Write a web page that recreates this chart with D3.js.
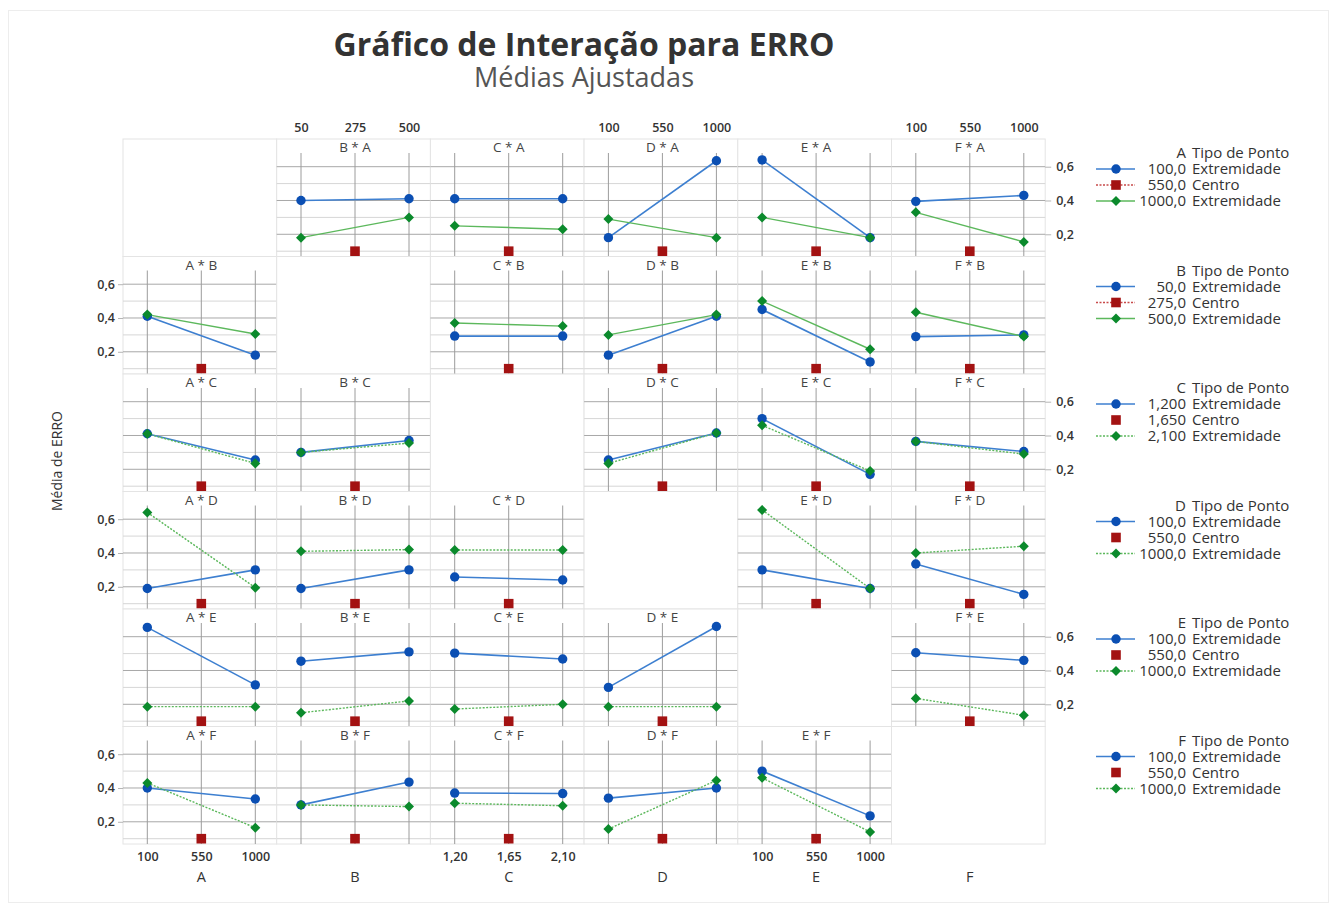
<!DOCTYPE html>
<html>
<head>
<meta charset="utf-8">
<script src="https://cdn.jsdelivr.net/npm/d3@7"></script>
<style>
  body { margin: 0; background: #fff; }
  svg { display: block; font-family: "Open Sans", "Noto Sans", sans-serif; }
</style>
</head>
<body>
<svg id="chart" width="1337" height="911"></svg>
<script>
// Factors of the design, in matrix order (columns = x factor, rows = trace factor)
const factorNames = ["A", "B", "C", "D", "E", "F"];

// Tick labels shown on the outer axes for each factor (low, centre, high)
const axisTickLabels = [
  ["100", "550", "1000"],
  ["50", "275", "500"],
  ["1,20", "1,65", "2,10"],
  ["100", "550", "1000"],
  ["100", "550", "1000"],
  ["100", "550", "1000"]
];

// Level labels shown in the legends
const legendLevels = [
  ["100,0", "550,0", "1000,0"],
  ["50,0", "275,0", "500,0"],
  ["1,200", "1,650", "2,100"],
  ["100,0", "550,0", "1000,0"],
  ["100,0", "550,0", "1000,0"],
  ["100,0", "550,0", "1000,0"]
];
const pointTypes = ["Extremidade", "Centro", "Extremidade"];

// Fitted means of ERRO with the trace factor (row) at its low level,
// given at the low and high level of the x factor (column)
const lowLevelMeans = [
  [null, [0.40, 0.41], [0.41, 0.41], [0.18, 0.635], [0.64, 0.18], [0.395, 0.43]],
  [[0.41, 0.18], null, [0.293, 0.293], [0.18, 0.41], [0.45, 0.14], [0.29, 0.30]],
  [[0.41, 0.255], [0.30, 0.37], null, [0.255, 0.415], [0.50, 0.17], [0.365, 0.305]],
  [[0.19, 0.30], [0.19, 0.30], [0.258, 0.24], null, [0.30, 0.19], [0.335, 0.155]],
  [[0.655, 0.315], [0.455, 0.51], [0.503, 0.468], [0.30, 0.66], null, [0.505, 0.46]],
  [[0.40, 0.335], [0.30, 0.435], [0.37, 0.367], [0.34, 0.40], [0.50, 0.235], null]
];

// Same, with the trace factor at its high level
const highLevelMeans = [
  [null, [0.18, 0.30], [0.25, 0.23], [0.29, 0.18], [0.30, 0.18], [0.33, 0.155]],
  [[0.42, 0.305], null, [0.37, 0.352], [0.30, 0.42], [0.50, 0.215], [0.434, 0.29]],
  [[0.41, 0.235], [0.30, 0.355], null, [0.235, 0.415], [0.46, 0.19], [0.365, 0.29]],
  [[0.64, 0.195], [0.41, 0.42], [0.418, 0.418], null, [0.655, 0.19], [0.40, 0.44]],
  [[0.186, 0.186], [0.15, 0.22], [0.172, 0.20], [0.186, 0.186], null, [0.235, 0.135]],
  [[0.43, 0.165], [0.30, 0.29], [0.31, 0.295], [0.157, 0.445], [0.46, 0.14], null]
];

// Fitted mean at the centre point
const centerMean = 0.10;

// Y grid values and labelled ticks
const gridValues = [0.1, 0.2, 0.3, 0.4, 0.5, 0.6];
const yTickValues = [0.2, 0.4, 0.6];

// ---------------------------------------------------------------------------
const blueMark = "#0b4fb3", blueLine = "#3d7fd0";
const greenMark = "#0b8a2c", greenLine = "#5cb85c";
const redMark = "#a31212";
const textColor = "#333";

const greenDotted = [false, false, true, true, true, true];
const centreLineInLegend = [true, true, false, false, false, false];

const svg = d3.select("#chart");

// figure frame
svg.append("rect")
  .attr("x", 8.5).attr("y", 10.5).attr("width", 1320).attr("height", 892)
  .attr("fill", "none").attr("stroke", "#ededed");

const gridLeft = 123, gridTop = 139, cellW = 153.7, cellH = 117.5, stripH = 14;
const n = factorNames.length;

const x = d3.scalePoint().domain([0, 1, 2]).range([24.3, 132.3]);
const y = d3.scaleLinear().domain([0.0686, 0.681]).range([cellH, stripH]);
const fmt = v => d3.format(".1f")(v).replace(".", ",");

const diamond = d3.symbol().type(d3.symbolDiamond2).size(64);

// Title
svg.append("text")
  .attr("x", 584).attr("y", 56).attr("text-anchor", "middle")
  .attr("font-size", 32).attr("font-weight", 700).attr("fill", "#333")
  .text("Gráfico de Interação para ERRO");
svg.append("text")
  .attr("x", 584).attr("y", 87).attr("text-anchor", "middle")
  .attr("font-size", 27).attr("fill", "#555")
  .text("Médias Ajustadas");

// Panels
for (let r = 0; r < n; r++) {
  for (let c = 0; c < n; c++) {
    const g = svg.append("g")
      .attr("transform", `translate(${gridLeft + c * cellW},${gridTop + r * cellH})`);
    g.append("rect")
      .attr("width", cellW).attr("height", cellH)
      .attr("fill", "#fff").attr("stroke", "#e4e4e4");
    if (r === c) continue;

    // horizontal grid
    g.selectAll("line.h").data(gridValues).join("line")
      .attr("class", "h")
      .attr("x1", 0).attr("x2", cellW)
      .attr("y1", d => y(d)).attr("y2", d => y(d))
      .attr("stroke", d => yTickValues.some(t => Math.abs(t - d) < 1e-9) ? "#a8a8a8" : "#d6d6d6")
      .attr("stroke-width", 1);

    // vertical grid at the factor levels
    g.selectAll("line.v").data([0, 1, 2]).join("line")
      .attr("class", "v")
      .attr("x1", d => x(d)).attr("x2", d => x(d))
      .attr("y1", stripH).attr("y2", cellH)
      .attr("stroke", "#9c9c9c").attr("stroke-width", 1);

    // panel title
    g.append("text")
      .attr("x", x(1)).attr("y", 8.5).attr("dy", "0.35em")
      .attr("text-anchor", "middle").attr("font-size", 13.5).attr("fill", "#444")
      .text(`${factorNames[c]} * ${factorNames[r]}`);

    const low = lowLevelMeans[r][c];
    const high = highLevelMeans[r][c];
    const line = d3.line().x((d, i) => x(i * 2)).y(d => y(d));

    g.append("path").attr("d", line(low))
      .attr("fill", "none").attr("stroke", blueLine).attr("stroke-width", 1.6);
    g.append("path").attr("d", line(high))
      .attr("fill", "none").attr("stroke", greenLine).attr("stroke-width", 1.4)
      .attr("stroke-dasharray", greenDotted[r] ? "2,1.5" : null);

    g.selectAll("circle.lo").data(low).join("circle")
      .attr("class", "lo")
      .attr("cx", (d, i) => x(i * 2)).attr("cy", d => y(d)).attr("r", 4.7)
      .attr("fill", blueMark);
    g.selectAll("path.hi").data(high).join("path")
      .attr("class", "hi")
      .attr("transform", (d, i) => `translate(${x(i * 2)},${y(d)})`)
      .attr("d", diamond).attr("fill", greenMark);

    g.append("rect")
      .attr("x", x(1) - 4.8).attr("y", y(centerMean) - 4.8)
      .attr("width", 9.6).attr("height", 9.6).attr("fill", redMark);
  }
}

// Outer axes
function styleAxis(sel, size) {
  sel.select(".domain").remove();
  sel.selectAll(".tick line").attr("stroke", "#b5b5b5");
  sel.selectAll(".tick text").attr("fill", textColor).attr("font-size", size)
    .attr("font-weight", 600)
    .attr("font-family", "'Open Sans','Noto Sans',sans-serif");
}

for (let c = 0; c < n; c++) {
  const xAxisScale = d3.scalePoint().domain(axisTickLabels[c]).range(x.range());
  if (c % 2 === 1) {
    svg.append("g")
      .attr("transform", `translate(${gridLeft + c * cellW},${gridTop})`)
      .call(d3.axisTop(xAxisScale).tickSize(0).tickPadding(7.5))
      .call(s => styleAxis(s, 12.5));
  } else {
    svg.append("g")
      .attr("transform", `translate(${gridLeft + c * cellW},${gridTop + n * cellH})`)
      .call(d3.axisBottom(xAxisScale).tickSize(0).tickPadding(8))
      .call(s => styleAxis(s, 12.5));
  }
  svg.append("text")
    .attr("x", gridLeft + c * cellW + x(1)).attr("y", 877).attr("dy", "0.35em")
    .attr("text-anchor", "middle").attr("font-size", 14.5).attr("fill", textColor)
    .text(factorNames[c]);
}

for (let r = 0; r < n; r++) {
  const yAxisScale = y.copy().range([gridTop + r * cellH + cellH, gridTop + r * cellH + stripH]);
  if (r % 2 === 1) {
    svg.append("g").attr("transform", `translate(${gridLeft},0)`)
      .call(d3.axisLeft(yAxisScale).tickValues(yTickValues).tickFormat(fmt).tickSize(5).tickPadding(3))
      .call(s => styleAxis(s, 12.5));
  } else {
    svg.append("g").attr("transform", `translate(${gridLeft + n * cellW},0)`)
      .call(d3.axisRight(yAxisScale).tickValues(yTickValues).tickFormat(fmt).tickSize(6).tickPadding(5))
      .call(s => styleAxis(s, 12.5));
  }
}

// Y axis title
svg.append("text")
  .attr("transform", "translate(57,461) rotate(-90)")
  .attr("text-anchor", "middle").attr("dy", "0.35em")
  .attr("font-size", 14).attr("fill", textColor)
  .text("Média de ERRO");

// Legends, one per trace factor, aligned with its row
const legX = { lineStart: 1096, lineEnd: 1135, mark: 1116, value: 1186, label: 1192 };
for (let r = 0; r < n; r++) {
  const base = gridTop + r * cellH + 14;
  const lg = svg.append("g").attr("font-size", 15).attr("fill", textColor);
  lg.append("text").attr("x", legX.value).attr("y", base).attr("dy", "0.35em")
    .attr("text-anchor", "end").text(factorNames[r]);
  lg.append("text").attr("x", legX.label).attr("y", base).attr("dy", "0.35em")
    .text("Tipo de Ponto");

  legendLevels[r].forEach((lvl, i) => {
    const yy = base + 16 * (i + 1);
    if (i === 0) {
      lg.append("line").attr("x1", legX.lineStart).attr("x2", legX.lineEnd)
        .attr("y1", yy).attr("y2", yy).attr("stroke", blueLine).attr("stroke-width", 1.6);
      lg.append("circle").attr("cx", legX.mark).attr("cy", yy).attr("r", 4.7).attr("fill", blueMark);
    } else if (i === 1) {
      if (centreLineInLegend[r]) {
        lg.append("line").attr("x1", legX.lineStart).attr("x2", legX.lineEnd)
          .attr("y1", yy).attr("y2", yy).attr("stroke", "#c84a4a").attr("stroke-width", 1.3)
          .attr("stroke-dasharray", "2,1.5");
      }
      lg.append("rect").attr("x", legX.mark - 4.8).attr("y", yy - 4.8)
        .attr("width", 9.6).attr("height", 9.6).attr("fill", redMark);
    } else {
      lg.append("line").attr("x1", legX.lineStart).attr("x2", legX.lineEnd)
        .attr("y1", yy).attr("y2", yy).attr("stroke", greenLine).attr("stroke-width", 1.4)
        .attr("stroke-dasharray", greenDotted[r] ? "2,1.5" : null);
      lg.append("path").attr("transform", `translate(${legX.mark},${yy})`)
        .attr("d", diamond).attr("fill", greenMark);
    }
    lg.append("text").attr("x", legX.value).attr("y", yy).attr("dy", "0.35em")
      .attr("text-anchor", "end").text(lvl);
    lg.append("text").attr("x", legX.label).attr("y", yy).attr("dy", "0.35em")
      .text(pointTypes[i]);
  });
}
</script>
</body>
</html>
